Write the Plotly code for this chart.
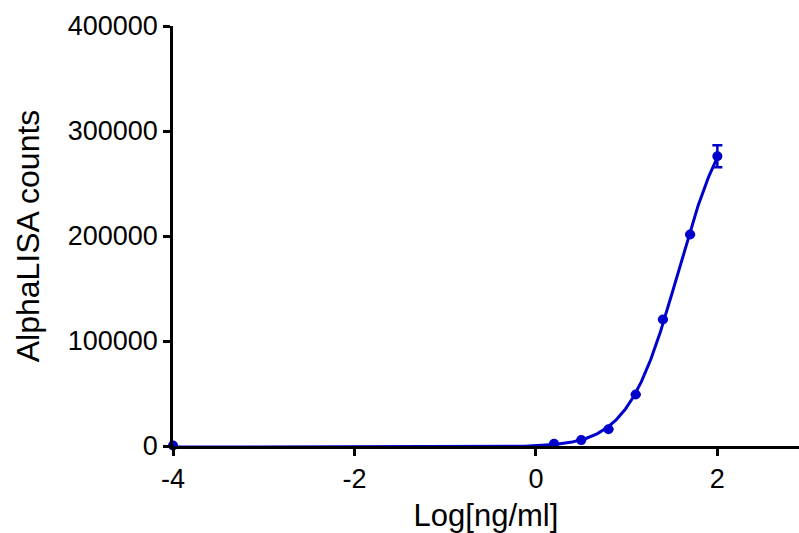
import numpy as np
import plotly.graph_objects as go

# Dose-response data: log10 concentration (ng/ml) vs AlphaLISA signal
log_conc = [-4.0, 0.2, 0.5, 0.8, 1.1, 1.4, 1.7, 2.0]
counts_mean = [500, 2100, 5600, 16000, 49000, 120500, 201500, 276000]
counts_sd = [0, 0, 0, 0, 0, 0, 0, 10500]

x_ticks = [-4, -2, 0, 2]
y_ticks = [0, 100000, 200000, 300000, 400000]

BLUE = "rgb(0,0,204)"
FONT = "Liberation Sans, Arial, sans-serif"


def fit_4pl(x, y):
    """Four-parameter logistic fit: grid over logEC50/Hill, linear solve for bottom/top."""
    x = np.asarray(x, float)
    y = np.asarray(y, float)
    best = None
    for logec50 in np.linspace(0.5, 3.0, 251):
        for hill in np.linspace(0.3, 3.0, 271):
            f = 1.0 / (1.0 + 10.0 ** ((logec50 - x) * hill))
            A = np.column_stack([1.0 - f, f])
            coef, *_ = np.linalg.lstsq(A, y, rcond=None)
            sse = float(np.sum((A @ coef - y) ** 2))
            if best is None or sse < best[0]:
                best = (sse, coef[0], coef[1], logec50, hill)
    return best[1:]


bottom, top, logec50, hill = fit_4pl(log_conc, counts_mean)
xs = np.linspace(min(log_conc), max(log_conc), 600)
ys = bottom + (top - bottom) / (1.0 + 10.0 ** ((logec50 - xs) * hill))

fig = go.Figure()
fig.add_trace(go.Scatter(
    x=xs, y=ys, mode="lines",
    line=dict(color=BLUE, width=3),
    hoverinfo="skip", showlegend=False, cliponaxis=False,
))
fig.add_trace(go.Scatter(
    x=log_conc, y=counts_mean, mode="markers",
    marker=dict(color=BLUE, size=10),
    error_y=dict(type="data", array=counts_sd, visible=True,
                 color=BLUE, thickness=2.5, width=5),
    showlegend=False, cliponaxis=False,
))

axis_common = dict(
    showgrid=False, zeroline=False,
    showline=True, linecolor="black", linewidth=2.5,
    ticks="outside", ticklen=7, tickwidth=2.5, tickcolor="black",
    tickfont=dict(family=FONT, size=27, color="black"),
)

fig.update_layout(
    width=799, height=533,
    margin=dict(l=173, r=0, t=26, b=84),
    paper_bgcolor="white", plot_bgcolor="white",
    font=dict(family=FONT, color="black"),
    xaxis=dict(
        range=[-4, 2.9], tickvals=x_ticks,
        ticktext=[str(v) for v in x_ticks],
        title=dict(text="Log[ng/ml]", font=dict(family=FONT, size=31), standoff=17),
        **axis_common,
    ),
    yaxis=dict(
        range=[0, 400000], tickvals=y_ticks,
        ticktext=[str(v) for v in y_ticks],
        title=dict(text="AlphaLISA counts", font=dict(family=FONT, size=32), standoff=19),
        **axis_common,
    ),
)

fig.write_html("out.html")
